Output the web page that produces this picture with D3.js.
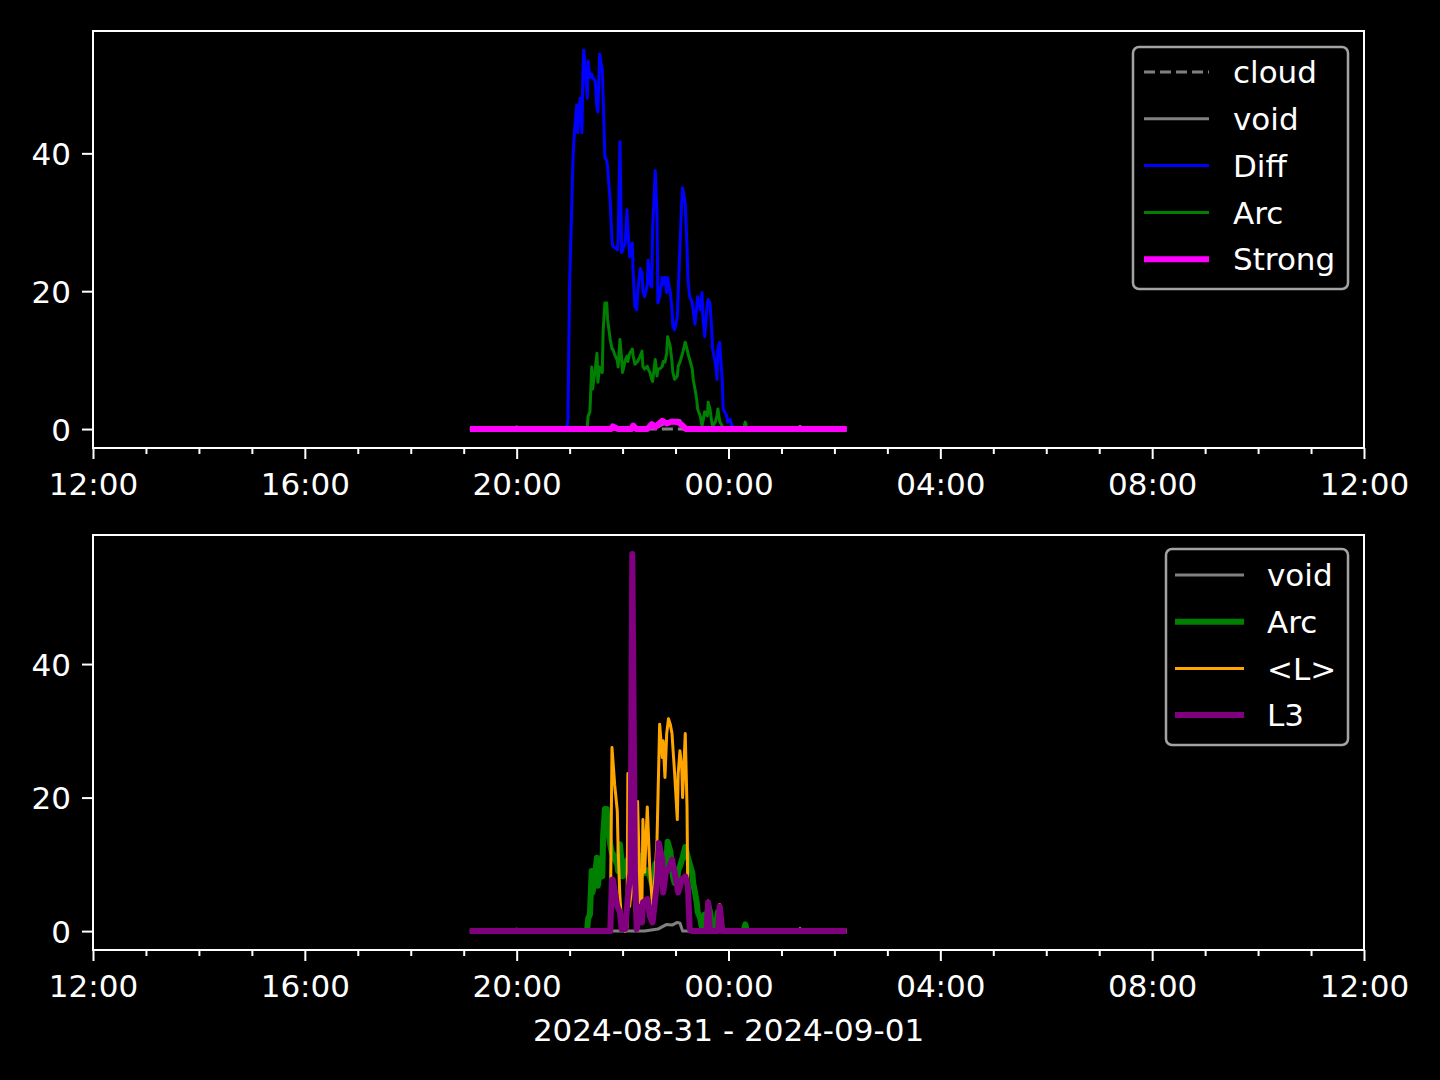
<!DOCTYPE html>
<html><head><meta charset="utf-8">
<script src="https://cdn.jsdelivr.net/npm/d3@7"></script>
<style>html,body{margin:0;padding:0;background:#000;}svg{display:block;}</style>
</head><body>
<svg id="chart" width="1440" height="1080"></svg>
<script>
// ---- data (times as HH:MM, 2024-08-31 12:00 -> 2024-09-01 12:00) ----
const xTickLabels = ["12:00","16:00","20:00","00:00","04:00","08:00","12:00"];
const yTickValues = [0, 20, 40];
const xLabel = "2024-08-31 - 2024-09-01";

const cloudTimes = ["19:07","02:14"];
const cloudValues = [0, 0];

const voidTimes = ["19:07","19:55","20:00","20:06","22:25","22:40","22:50","22:56","23:02","23:05","23:08","01:18","01:21","01:24","02:14"];
const voidValues = [0, 0, 0.3, 0, 0, 0.3, 1.0, 0.9, 1.3, 1.2, 0, 0, 0.4, 0, 0];

const diffTimes = ["19:07","20:56","20:58","21:00","21:04","21:06","21:08","21:09","21:12","21:14","21:15","21:16","21:20","21:21","21:23","21:25","21:26","21:29","21:31","21:32","21:34","21:37","21:38","21:40","21:42","21:43","21:46","21:48","21:49","21:54","21:55","21:57","21:59","22:03","22:05","22:06","22:08","22:11","22:12","22:14","22:16","22:17","22:20","22:22","22:23","22:25","22:28","22:29","22:31","22:33","22:34","22:37","22:39","22:40","22:42","22:45","22:46","22:48","22:50","22:51","22:54","22:56","22:57","22:59","23:02","23:03","23:05","23:07","23:08","23:11","23:13","23:14","23:16","23:19","23:20","23:22","23:24","23:25","23:28","23:30","23:31","23:33","23:36","23:37","23:39","23:41","23:42","23:45","23:47","23:48","23:50","23:53","23:54","23:56","23:58","23:59","00:02","00:04","00:06","02:14"];
const diffValues = [0, 0, 1, 21, 40, 44, 47, 43, 48, 43, 51.5, 55, 48, 53.4, 51, 51.5, 51, 50.5, 46.6, 46, 54.4, 52, 48, 39.4, 39, 38, 33, 27.4, 26.5, 26, 27.5, 41.7, 25.6, 27, 31.8, 29, 25, 27, 22.7, 17.8, 17.3, 19.8, 23.3, 22.7, 20, 19.2, 21, 24.5, 21, 20.6, 28.9, 37.5, 31, 18.3, 19.2, 22, 21, 22, 19.8, 22, 19.8, 17.3, 14.9, 14.4, 16.3, 19.8, 26.4, 33, 35, 32.7, 26.4, 21.7, 19.2, 18.3, 17.3, 15.2, 17.8, 19.2, 17.3, 19.8, 16.3, 13.4, 18.3, 18.8, 18.3, 14.4, 11.6, 9.6, 7.2, 11.6, 12.6, 6.8, 2.9, 2.4, 1.9, 1, 1.4, 0.3, 0, 0];

const arcTimes = ["19:07","21:19","21:20","21:21","21:23","21:25","21:26","21:29","21:31","21:32","21:34","21:37","21:38","21:40","21:42","21:43","21:46","21:48","21:49","21:51","21:54","21:55","21:57","21:59","22:00","22:03","22:05","22:06","22:08","22:11","22:12","22:14","22:16","22:17","22:20","22:22","22:23","22:25","22:28","22:29","22:31","22:33","22:34","22:37","22:39","22:40","22:42","22:45","22:46","22:48","22:50","22:51","22:54","22:56","22:57","22:59","23:02","23:03","23:05","23:07","23:08","23:11","23:13","23:14","23:16","23:19","23:20","23:22","23:24","23:25","23:28","23:30","23:31","23:33","23:36","23:37","23:39","23:41","23:42","23:45","23:47","23:48","23:50","23:53","23:54","00:17","00:19","00:21","02:14"];
const arcValues = [0, 0, 0.4, 1.9, 2.5, 9, 5.8, 8.7, 11, 6.8, 9, 8.2, 14.4, 18.3, 18.3, 15.9, 13, 11.6, 11.6, 10.8, 10, 9, 13, 10, 8.2, 10, 10.6, 9.8, 11, 11.6, 10.6, 9.4, 9.7, 9.8, 10.6, 11.3, 9.1, 8.7, 9.1, 8.7, 8.2, 7.2, 6.9, 10.1, 7.7, 8.7, 8.7, 9.1, 9.8, 9.7, 11, 13.4, 12, 9.7, 8.2, 7.2, 7.7, 9.1, 9.7, 10.6, 11, 12.6, 11.6, 11, 10.1, 8.7, 7.2, 5.8, 4.3, 2.9, 1.9, 0.4, 1.1, 2.5, 1.9, 3.9, 2.9, 1, 0.4, 1, 1.9, 2.9, 1.1, 0.4, 0, 0, 1, 0, 0];

const strongTimes = ["19:07","21:47","21:49","21:55","22:10","22:12","22:16","22:28","22:33","22:37","22:45","22:50","22:56","23:03","23:08","23:12","02:14"];
const strongValues = [0, 0, 0.4, 0, 0, 0.5, 0, 0, 0.7, 0.3, 1.2, 0.8, 1.1, 1.0, 0.5, 0, 0];

const lmeanTimes = ["19:07","21:46","21:48","21:51","21:54","21:55","21:57","21:59","22:03","22:05","22:06","22:08","22:09","22:11","22:12","22:14","22:16","22:17","22:20","22:22","22:23","22:25","22:28","22:31","22:34","22:37","22:39","22:42","22:45","22:46","22:48","22:50","22:52","22:54","22:56","22:57","22:59","23:02","23:03","23:05","23:07","23:08","23:11","23:13","23:14","23:16","23:19","23:35","23:37","23:39","23:48","23:50","23:53","02:14"];
const lmeanValues = [0, 0, 27.5, 22, 18, 12, 5, 1.3, 0, 0.5, 23.6, 3.7, 5, 10, 8, 3, 3, 19.4, 3.7, 5, 16.7, 8.8, 18.6, 8.8, 3.7, 8.8, 13.7, 31, 26, 28.5, 23, 29.6, 31.8, 31, 29.6, 27.5, 23.6, 16.7, 23.6, 27, 24.5, 20, 29.6, 18.6, 3.7, 0.7, 0, 0, 4.5, 0, 0, 4, 0, 0];

const l3Times = ["19:07","21:46","21:48","21:49","21:54","21:57","21:59","22:03","22:06","22:09","22:11","22:14","22:16","22:20","22:22","22:23","22:28","22:31","22:34","22:39","22:41","22:45","22:46","22:49","22:52","22:56","22:59","23:03","23:07","23:11","23:14","23:16","23:19","23:35","23:37","23:39","23:48","23:50","23:53","02:14"];
const l3Values = [0, 0, 7.7, 7.7, 3.7, 2.8, 0.3, 0.3, 5.2, 8.8, 56.5, 8.8, 0.3, 3.7, 1.3, 4.3, 4.8, 2.2, 1.3, 7.3, 13.2, 10.7, 5.8, 8.8, 9.2, 10.7, 8.8, 5.8, 7.7, 8.2, 6.7, 0.3, 0, 0, 4.3, 0, 0, 3.7, 0, 0];

// ---- helpers ----
function parseT(s) {
  const [h, m] = s.split(":").map(Number);
  return h >= 12 ? new Date(2024, 7, 31, h, m) : new Date(2024, 8, 1, h, m);
}
function series(times, values) { return times.map((t, i) => ({t: parseT(t), v: values[i]})); }

const svg = d3.select("#chart");
const FONT = "'DejaVu Sans', sans-serif";
const FS = 31;
const left = 93, right = 1364;
const x = d3.scaleTime()
  .domain([new Date(2024, 7, 31, 12, 0), new Date(2024, 8, 1, 12, 0)])
  .range([left, right]);

function panel(top, bottom, yMin, yMax, lines, legend, withXLabel, id) {
  const y = d3.scaleLinear().domain([yMin, yMax]).range([bottom, top]);
  const g = svg.append("g");
  g.append("clipPath").attr("id", id).append("rect")
    .attr("x", left).attr("y", top).attr("width", right - left).attr("height", bottom - top);
  const lg = g.append("g").attr("clip-path", `url(#${id})`);
  const lineGen = d3.line().x(d => x(d.t)).y(d => y(d.v));
  lines.forEach(L => {
    lg.append("path").datum(series(L.times, L.values))
      .attr("d", lineGen).attr("fill", "none")
      .attr("stroke", L.color).attr("stroke-width", L.w)
      .attr("stroke-linejoin", "round").attr("stroke-linecap", "butt")
      .attr("stroke-dasharray", L.dash || null);
  });
  // axes
  const majors = xTickLabels.map((s, i) => d3.timeHour.offset(new Date(2024, 7, 31, 12, 0), i * 4));
  const minors = d3.range(0, 25).map(i => d3.timeHour.offset(new Date(2024, 7, 31, 12, 0), i)).filter((d, i) => i % 4 !== 0);
  const xMinor = g.append("g").attr("transform", `translate(0,${bottom})`)
    .call(d3.axisBottom(x).tickValues(minors).tickSize(6).tickFormat(""));
  const xMajor = g.append("g").attr("transform", `translate(0,${bottom})`)
    .call(d3.axisBottom(x).tickValues(majors).tickSize(11).tickPadding(11)
      .tickFormat((d, i) => xTickLabels[i]));
  const yAx = g.append("g").attr("transform", `translate(${left},0)`)
    .call(d3.axisLeft(y).tickValues(yTickValues).tickSize(11).tickPadding(11).tickFormat(d3.format("d")));
  [xMinor, xMajor, yAx].forEach(a => {
    a.select(".domain").remove();
    a.selectAll(".tick line").attr("stroke", "#fff").attr("stroke-width", 2);
    a.selectAll(".tick text").attr("fill", "#fff").attr("font-family", FONT).attr("font-size", FS);
  });
  xMajor.selectAll(".tick text").attr("dy", null).attr("y", 0)
    .attr("transform", `translate(0,${47})`);
  yAx.selectAll(".tick text").attr("dy", "0.36em");
  g.append("rect").attr("x", left).attr("y", top).attr("width", right - left).attr("height", bottom - top)
    .attr("fill", "none").attr("stroke", "#fff").attr("stroke-width", 2);
  // legend
  const Lg = g.append("g");
  Lg.append("rect").attr("x", legend.x0).attr("y", legend.y0)
    .attr("width", legend.x1 - legend.x0).attr("height", legend.y1 - legend.y0)
    .attr("rx", 6).attr("ry", 6).attr("fill", "#000").attr("fill-opacity", 0.8)
    .attr("stroke", "#a3a3a3").attr("stroke-width", 2.5);
  legend.items.forEach((it, i) => {
    const yy = legend.firstY + i * legend.step;
    Lg.append("line").attr("x1", legend.lx1).attr("x2", legend.lx2).attr("y1", yy).attr("y2", yy)
      .attr("stroke", it.color).attr("stroke-width", it.w).attr("stroke-dasharray", it.dash || null);
    Lg.append("text").attr("x", legend.tx).attr("y", yy).attr("dy", "0.36em")
      .attr("fill", "#fff").attr("font-family", FONT).attr("font-size", FS).text(it.label);
  });
  if (withXLabel) {
    g.append("text").attr("x", (left + right) / 2).attr("y", bottom + 91).attr("text-anchor", "middle")
      .attr("fill", "#fff").attr("font-family", FONT).attr("font-size", FS).text(xLabel);
  }
}

const topLines = [
  {label: "cloud", times: cloudTimes, values: cloudValues, color: "#808080", w: 3, dash: "11,5"},
  {label: "void", times: voidTimes, values: voidValues, color: "#808080", w: 3},
  {label: "Diff", times: diffTimes, values: diffValues, color: "#0000ff", w: 3},
  {label: "Arc", times: arcTimes, values: arcValues, color: "#008000", w: 3},
  {label: "Strong", times: strongTimes, values: strongValues, color: "#ff00ff", w: 6}
];
panel(31, 448, -2.75, 57.75, topLines,
  {x0: 1133, y0: 47, x1: 1348, y1: 289, lx1: 1144, lx2: 1209, tx: 1233, firstY: 72, step: 46.8, items: topLines},
  false, "clipTop");

const botLines = [
  {label: "void", times: voidTimes, values: voidValues, color: "#808080", w: 3},
  {label: "Arc", times: arcTimes, values: arcValues, color: "#008000", w: 6},
  {label: "<L>", times: lmeanTimes, values: lmeanValues, color: "#ffa500", w: 3},
  {label: "L3", times: l3Times, values: l3Values, color: "#800080", w: 6}
];
panel(535, 950, -2.83, 59.33, botLines,
  {x0: 1166, y0: 549, x1: 1348, y1: 745, lx1: 1175, lx2: 1244, tx: 1267, firstY: 575, step: 46.7, items: botLines},
  true, "clipBot");
</script>
</body></html>
